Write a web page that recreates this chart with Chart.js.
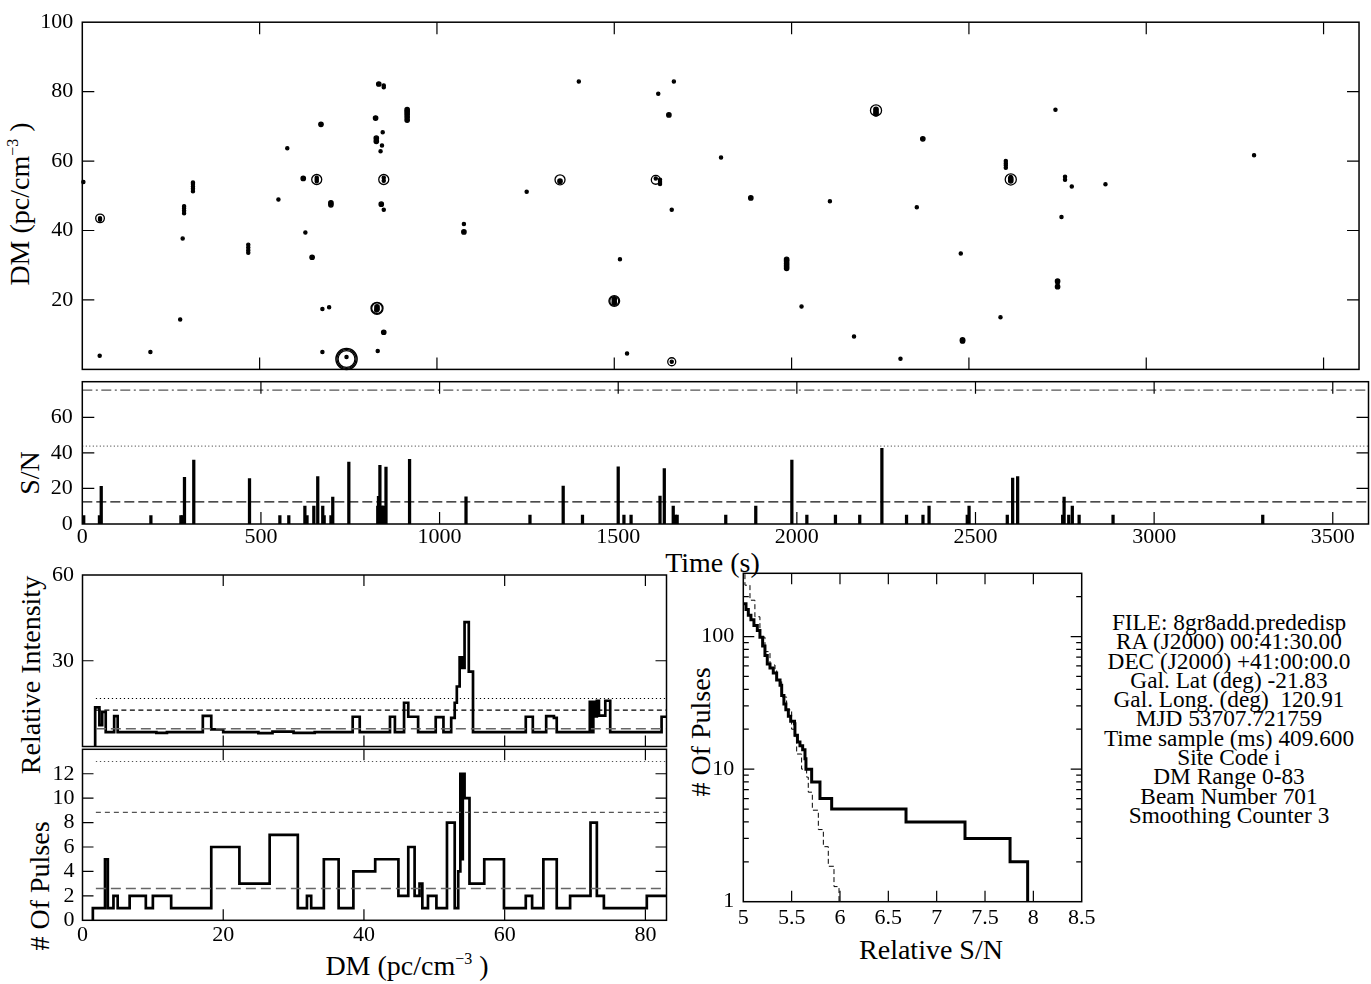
<!DOCTYPE html>
<html>
<head>
<meta charset="utf-8">
<title>Single pulse search</title>
<script src="https://cdn.jsdelivr.net/npm/chart.js@4.4.1/dist/chart.umd.min.js"></script>
<style>
  html, body { margin: 0; padding: 0; background: #fff; }
  #page { position: relative; width: 1371px; height: 984px; overflow: hidden;
          font-family: "Liberation Serif", "Times New Roman", serif; color: #000; }
  #page canvas { position: absolute; left: 0; top: 0; }
  .lbl { position: absolute; font-size: 28px; line-height: 28px; white-space: nowrap;
         transform: translate(-50%, -50%); }
  .lbl.v { transform: translate(-50%, -50%) rotate(-90deg); }
  .sup { font-size: 16px; position: relative; top: -11px; }
  #info { position: absolute; left: 1029px; top: 613px; width: 400px; text-align: center;
          font-size: 23.3px; line-height: 19.3px; white-space: pre; }
</style>
</head>
<body>
<div id="page">
  <div class="lbl v" style="left:21.5px; top:204px">DM (pc/cm<span class="sup">&minus;3</span> )</div>
  <div class="lbl v" style="left:29.5px; top:473px">S/N</div>
  <div class="lbl" style="left:712.5px; top:562.5px">Time (s)</div>
  <div class="lbl v" style="left:31px; top:675px">Relative Intensity</div>
  <div class="lbl v" style="left:40px; top:886px"># Of Pulses</div>
  <div class="lbl" style="left:407px; top:967.5px">DM (pc/cm<span class="sup">&minus;3</span> )</div>
  <div class="lbl v" style="left:700.5px; top:731.5px"># Of Pulses</div>
  <div class="lbl" style="left:931px; top:949.5px">Relative S/N</div>
  <div id="info"></div>

  <canvas id="cEvents" width="1371" height="984"></canvas>
  <canvas id="cSN" width="1371" height="984"></canvas>
  <canvas id="cIntensity" width="1371" height="984"></canvas>
  <canvas id="cPulses" width="1371" height="984"></canvas>
  <canvas id="cDist" width="1371" height="984"></canvas>
</div>

<script>
// ---- data ----

// top panel: single pulse events (time s, DM, sigma -> marker size)
const evTime = [
  3, 50, 50, 50, 49, 192, 276, 283, 287, 287, 287, 287, 312, 312, 312, 312, 312, 468, 468, 468, 468,
  553, 578, 623, 629, 648, 661, 661, 661, 661, 673, 677, 677, 696, 701, 701,
  745, 745, 745, 745, 827, 829, 829, 833, 831, 831, 831, 831, 829, 836, 841, 845, 847, 850, 850,
  850, 850, 850, 843, 850, 850, 916, 916, 916, 916, 916,
  1076, 1076, 1253, 1347, 1347, 1400, 1500, 1500, 1500, 1500, 1516, 1536, 1624, 1654,
  1617, 1617, 1629, 1629, 1629, 1662, 1668, 1662, 1662, 1801, 1885,
  1986, 1986, 1986, 1986, 1986, 2028, 2108, 2176, 2238, 2238, 2238, 2238, 2307,
  2370, 2353, 2477, 2482, 2482, 2589, 2604, 2604, 2604, 2604, 2618, 2618, 2618, 2618,
  2744, 2750, 2750, 2750, 2761, 2771, 2771, 2790, 2885, 3304
];
const evDM = [
  54, 43.5, 43.5, 43.1, 3.9, 5, 14.4, 37.7, 45, 45.7, 46.4, 47, 51.3, 52, 52.7, 53.4, 53.8, 33.6, 34.3, 35.1, 35.9,
  48.9, 63.7, 55, 39.4, 32.3, 54.7, 54.7, 54.2, 55.2, 70.6, 17.4, 5, 17.9, 47.4, 48,
  3, 3, 3, 3.6, 72.4, 65.7, 66.6, 5.3, 17.6, 17.6, 17.3, 18, 17, 82.2, 62.8, 64.5, 68.3, 81.3, 81.8,
  54.7, 54.3, 55.2, 47.6, 46, 10.7, 71.8, 72.7, 73.5, 74.2, 74.8,
  41.9, 39.6, 51.2, 54.6, 54.2, 82.9, 19.7, 19.7, 19.3, 20.2, 31.7, 4.6, 79.4, 73.3,
  54.6, 55, 53.4, 54, 54.6, 46, 82.9, 2.2, 2.2, 61, 49.4,
  29.1, 29.8, 30.5, 31.2, 31.7, 18.1, 48.4, 9.5, 74.6, 74.2, 74.9, 73.6, 3.1,
  66.4, 46.7, 33.4, 8.5, 8.2, 15, 58.1, 58.8, 59.4, 60, 54.7, 54.3, 55, 55.4,
  74.8, 23.8, 24.6, 25.4, 43.9, 54.6, 55.5, 52.7, 53.3, 61.7
];
const evSigma = [
  5, 19.5, 5, 5, 5, 5, 5, 5, 5, 5, 5, 5, 5, 5, 5, 5, 5, 5, 5, 5, 5,
  5, 5, 8, 5, 8, 22.5, 5, 5, 5, 8, 5, 5, 5, 8, 8,
  38, 43, 48, 5, 8, 8, 8, 5, 24, 27, 8, 8, 5, 8, 5, 5, 5, 5, 5,
  22.5, 5, 5, 8, 5, 8, 8, 8, 8, 8, 8,
  5, 8, 5, 22.5, 8, 5, 20, 24, 8, 8, 5, 5, 5, 8,
  20, 5, 5, 5, 5, 5, 5, 18, 5, 5, 8,
  8, 8, 8, 8, 8, 5, 5, 5, 25, 8, 8, 8, 5,
  8, 5, 5, 8, 8, 5, 5, 5, 5, 5, 25, 8, 8, 5,
  5, 8, 5, 8, 5, 5, 5, 5, 5, 5
];

// S/N vs time panel
const pulseTime = [4, 48, 53, 192, 276, 280, 286, 312, 468, 553, 578, 623, 629, 648, 659, 673, 677, 696, 701, 746,
  827, 829, 833, 836, 840, 843, 850, 916, 1074, 1253, 1346, 1400, 1500, 1516, 1536, 1617, 1629, 1654, 1660, 1665,
  1801, 1885, 1986, 2028, 2108, 2176, 2238, 2307, 2353, 2370, 2477, 2482, 2589, 2604, 2618, 2744, 2748, 2761, 2771, 2790,
  2885, 3304];
const pulseSN = [4.7, 4.7, 21.2, 4.7, 4.7, 4.7, 26.2, 36, 25.5, 4.7, 4.7, 10.1, 4.7, 10.1, 26.6, 10.1, 4.7, 4.7, 15.2, 34.8,
  10.1, 15.5, 33, 10.1, 10.1, 10.1, 32, 36.3, 15.3, 5, 21.3, 5, 32.2, 5, 5, 15.7, 31.1, 10.1, 5, 5,
  5, 10.1, 36, 5, 5, 5, 42.5, 5, 5, 10.1, 5, 10.1, 5, 25.8, 26.6, 5, 15.2, 5, 10.1, 5,
  5, 5];
const snLevels = [75.3, 43.8, 12.4];

// relative intensity vs DM (bin start, value)
const riEdges = [1.8, 2.4, 2.8, 3.3, 4.5, 5.0, 10.5, 12, 17.1, 18.3, 20, 25, 27, 30, 33, 38.4, 39.4, 43.7, 44.4, 45.7,
  46.3, 47.7, 50.2, 51.3, 52.4, 52.9, 53.2, 53.6, 53.8, 54.0, 54.15, 54.3, 54.9, 55.5, 63, 64, 65.9, 67, 67.4, 72.1,
  72.4, 72.6, 72.9, 73.1, 73.4, 74.3, 75, 82.3];
const riValues = [13.7, 7.5, 12.1, 5, 10.6, 5, 4.8, 5, 10.7, 6, 5, 4.7, 5.2, 4.8, 5, 10.4, 5, 10.4, 5, 15.3,
  10.4, 5, 10.3, 5, 10, 15.3, 21, 31.2, 27.5, 31.2, 27.5, 43.5, 26.2, 5, 10.4, 5, 10.6, 10, 5, 15.6,
  5, 15.6, 10.5, 16, 10.8, 16, 5, 10.4];
const riLevels = [16.8, 12.7, 6.2];

// number of pulses vs DM (bin start, count)
const npEdges = [1.47, 3.2, 3.6, 4.4, 5.0, 6.7, 9.0, 10.0, 12.6, 18.3, 22.3, 26.6, 30.6, 31.9, 32.5, 34.3, 36.4, 38.5,
  41.6, 44.9, 46.3, 47.2, 47.9, 48.3, 49.1, 50.3, 51.8, 52.9, 53.4, 53.7, 53.9, 54.05, 54.3, 55.0, 57.1, 59.9, 63.0,
  63.9, 65.5, 67.4, 69.3, 72.2, 73.1, 74.1, 80.2];
const npCounts = [1, 5, 1, 2, 1, 2, 1, 2, 1, 6, 3, 7, 1, 2, 1, 5, 1, 4, 5, 2, 6, 2, 3, 1, 2, 1, 8, 1, 4, 12, 5, 12, 10,
  3, 5, 1, 2, 1, 5, 1, 2, 8, 2, 1, 2];
const npLevels = [13.0, 8.84, 2.6];
const levelStartDM = 1.9;
const dmMax = 83;

// cumulative pulse count vs relative S/N, measured and expected
const snEdges = [5.0, 5.028, 5.052, 5.079, 5.11, 5.145, 5.172, 5.2, 5.224, 5.248, 5.276, 5.31, 5.345, 5.38, 5.397,
  5.42, 5.44, 5.466, 5.49, 5.53, 5.534, 5.56, 5.586, 5.614, 5.638, 5.648, 5.707, 5.793, 5.914, 6.683, 7.293, 7.759, 7.941];
const snCounts = [177, 160, 145, 134, 121, 111, 99, 85, 72, 62, 58, 53, 47, 43, 36, 31, 28, 25, 23, 22, 18, 16, 15, 14,
  12, 10, 8, 6, 5, 4, 3, 2, 1];
const expEdges = [5.0, 5.017, 5.069, 5.12, 5.172, 5.224, 5.276, 5.328, 5.345, 5.397, 5.448, 5.5, 5.534, 5.552, 5.603,
  5.655, 5.672, 5.714, 5.776, 5.828, 5.879, 5.938, 5.99];
const expCounts = [330, 244, 188, 141, 99, 77, 61, 56, 47, 35, 28, 20, 17.5, 13, 10, 8.7, 6.7, 4.9, 3.5, 2.6, 1.85, 1.3, 1];

// tick labels
const timeTicks = [0, 500, 1000, 1500, 2000, 2500, 3000, 3500];
const dmTopTicks = [20, 40, 60, 80, 100];
const snTicks = [0, 20, 40, 60];
const dmTicks = [0, 20, 40, 60, 80];
const riTicks = [30, 60];
const npTicks = [0, 2, 4, 6, 8, 10, 12];
const relSnTicks = [5, 5.5, 6, 6.5, 7, 7.5, 8, 8.5];
const countTicks = [1, 10, 100];

const infoLines = [
  'FILE: 8gr8add.prededisp',
  'RA (J2000) 00:41:30.00',
  'DEC (J2000) +41:00:00.0',
  'Gal. Lat (deg) -21.83',
  'Gal. Long. (deg)  120.91',
  'MJD 53707.721759',
  'Time sample (ms) 409.600',
  'Site Code i',
  'DM Range 0-83',
  'Beam Number 701',
  'Smoothing Counter 3'
];

// ---- drawing ----
const SERIF = '"Liberation Serif", "Times New Roman", serif';
const PAGE_W = 1371, PAGE_H = 984;
const X_AXIS_H = 40;
Chart.defaults.font.family = SERIF;
Chart.defaults.color = '#000';

document.getElementById('info').textContent = infoLines.join('\n');

// box round the plot area with ticks pointing inward on all four sides
const framePlugin = {
  id: 'frame',
  afterDraw(chart, args, opts) {
    const a = chart.chartArea, ctx = chart.ctx;
    const xs = chart.scales.x, ys = chart.scales.y;
    const len = opts.tickLen || 12;
    ctx.save();
    ctx.strokeStyle = '#000';
    ctx.lineWidth = 1.2;
    ctx.beginPath();
    xs.ticks.forEach(t => {
      const p = xs.getPixelForValue(t.value);
      if (p < a.left + 1 || p > a.right - 1) return;
      ctx.moveTo(p, a.bottom); ctx.lineTo(p, a.bottom - len);
      ctx.moveTo(p, a.top); ctx.lineTo(p, a.top + len);
    });
    ys.ticks.forEach(t => {
      const p = ys.getPixelForValue(t.value);
      if (p < a.top + 1 || p > a.bottom - 1) return;
      ctx.moveTo(a.left, p); ctx.lineTo(a.left + len, p);
      ctx.moveTo(a.right, p); ctx.lineTo(a.right - len, p);
    });
    if (ys.type === 'logarithmic') {
      for (let dec = 1; dec < ys.max; dec *= 10) {
        for (let m = 2; m <= 9; m++) {
          const v = dec * m;
          if (v >= ys.max) break;
          const p = ys.getPixelForValue(v);
          ctx.moveTo(a.left, p); ctx.lineTo(a.left + len / 2, p);
          ctx.moveTo(a.right, p); ctx.lineTo(a.right - len / 2, p);
        }
      }
    }
    ctx.stroke();
    ctx.lineWidth = 1.5;
    ctx.strokeRect(a.left, a.top, a.right - a.left, a.bottom - a.top);
    ctx.restore();
  }
};
Chart.register(framePlugin);

function axis(cfg, which, size) {
  return {
    type: cfg.type || 'linear',
    min: cfg.min,
    max: cfg.max,
    offset: false,
    grid: { display: false, drawTicks: false },
    border: { display: false },
    afterFit: s => { if (which === 'x') s.height = size; else s.width = size; },
    afterBuildTicks: s => { s.ticks = cfg.ticks.map(v => ({ value: v })); },
    ticks: {
      display: cfg.labels !== false,
      padding: cfg.pad || 0,
      autoSkip: false,
      maxRotation: 0,
      color: '#000',
      font: { family: SERIF, size: 22 },
      callback: v => String(v)
    }
  };
}

// area = [left, top, right, bottom] of the plot box in page pixels
function options(area, xCfg, yCfg, tickLen) {
  const xh = xCfg.labels === false ? 0 : X_AXIS_H;
  return {
    responsive: false,
    animation: false,
    events: [],
    layout: { padding: { left: 0, top: area[1], right: PAGE_W - area[2], bottom: PAGE_H - area[3] - xh } },
    plugins: { legend: { display: false }, tooltip: { enabled: false }, frame: { tickLen: tickLen } },
    scales: { x: axis(xCfg, 'x', xh), y: axis(yCfg, 'y', area[0]) }
  };
}

function levelLine(y, x0, x1, color, dash, width) {
  return {
    type: 'line',
    data: [{ x: x0, y: y }, { x: x1, y: y }],
    borderColor: color,
    borderDash: dash,
    borderWidth: width,
    pointRadius: 0
  };
}

function stepPoints(edges, values, start, end) {
  const pts = [];
  if (start !== undefined) pts.push({ x: edges[0], y: start });
  edges.forEach((e, i) => pts.push({ x: e, y: values[i] }));
  if (end !== undefined) pts.push({ x: end, y: values[values.length - 1] });
  return pts;
}

function markerRadius(sig) {
  if (sig < 7) return 1.6;
  if (sig < 12) return 2.2;
  return sig / 4.5;
}

// top: DM vs time
new Chart(document.getElementById('cEvents'), {
  type: 'scatter',
  data: {
    datasets: [{
      data: evTime.map((t, i) => ({ x: t, y: evDM[i] })),
      pointRadius: ctx => markerRadius(evSigma[ctx.dataIndex]),
      pointBackgroundColor: ctx => markerRadius(evSigma[ctx.dataIndex]) < 3 ? '#000' : 'rgba(0,0,0,0)',
      pointBorderColor: '#000',
      pointBorderWidth: 1.3,
      clip: false
    }]
  },
  options: options([82.3, 16.7, 1368.5, 369.4],
    { min: 0, max: 3600, ticks: timeTicks, labels: false },
    { min: 0, max: 100, ticks: dmTopTicks, pad: 9 }, 12)
});

// S/N vs time
new Chart(document.getElementById('cSN'), {
  type: 'bar',
  data: {
    datasets: [
      {
        data: pulseTime.map((t, i) => ({ x: t, y: pulseSN[i] })),
        backgroundColor: '#000',
        barThickness: 2.6,
        grouped: false
      },
      levelLine(snLevels[0], 0, 3600, '#555', [10, 3.5, 2, 3.5], 1.2),
      levelLine(snLevels[1], 0, 3600, '#555', [1, 2.5], 1.2),
      levelLine(snLevels[2], 0, 3600, '#111', [10, 4], 1.3)
    ]
  },
  options: options([82.3, 381.7, 1368.5, 524],
    { min: 0, max: 3600, ticks: timeTicks, pad: 0 },
    { min: 0, max: 80, ticks: snTicks, pad: 9.5 }, 12)
});

// relative intensity vs DM
new Chart(document.getElementById('cIntensity'), {
  type: 'line',
  data: {
    datasets: [
      levelLine(riLevels[0], levelStartDM, dmMax, '#000', [1.2, 2.8], 1.2),
      levelLine(riLevels[1], levelStartDM, dmMax, '#000', [5, 3.5], 1.2),
      levelLine(riLevels[2], levelStartDM, dmMax, '#666', [10, 5], 1.6),
      {
        data: stepPoints(riEdges, riValues, 0, dmMax),
        stepped: 'before',
        borderColor: '#000',
        borderWidth: 2.7,
        pointRadius: 0
      }
    ]
  },
  options: options([82.5, 575, 666.5, 746.5],
    { min: 0, max: dmMax, ticks: dmTicks, labels: false },
    { min: 0, max: 60, ticks: riTicks, pad: 8.5 }, 11)
});

// number of pulses vs DM
new Chart(document.getElementById('cPulses'), {
  type: 'line',
  data: {
    datasets: [
      levelLine(npLevels[0], levelStartDM, dmMax, '#555', [1.3, 2.7], 1.2),
      levelLine(npLevels[1], levelStartDM, dmMax, '#555', [5, 4], 1.2),
      levelLine(npLevels[2], levelStartDM, dmMax, '#666', [10, 5], 1.6),
      {
        data: stepPoints(npEdges, npCounts, 0, dmMax),
        stepped: 'before',
        borderColor: '#000',
        borderWidth: 2.7,
        pointRadius: 0
      }
    ]
  },
  options: options([82.5, 749.3, 666.5, 920.3],
    { min: 0, max: dmMax, ticks: dmTicks, pad: 2 },
    { min: 0, max: 14, ticks: npTicks, pad: 8 }, 11)
});

// cumulative distribution of relative S/N
new Chart(document.getElementById('cDist'), {
  type: 'line',
  data: {
    datasets: [
      {
        data: stepPoints(expEdges, expCounts),
        stepped: 'before',
        borderColor: '#000',
        borderWidth: 1,
        borderDash: [5, 3],
        pointRadius: 0
      },
      {
        data: stepPoints(snEdges, snCounts),
        stepped: 'before',
        borderColor: '#000',
        borderWidth: 3,
        pointRadius: 0
      }
    ]
  },
  options: options([743.3, 573.3, 1081.7, 901.7],
    { min: 5, max: 8.5, ticks: relSnTicks, pad: 3 },
    { type: 'logarithmic', min: 1, max: 300, ticks: countTicks, pad: 9 }, 11)
});
</script>
</body>
</html>
